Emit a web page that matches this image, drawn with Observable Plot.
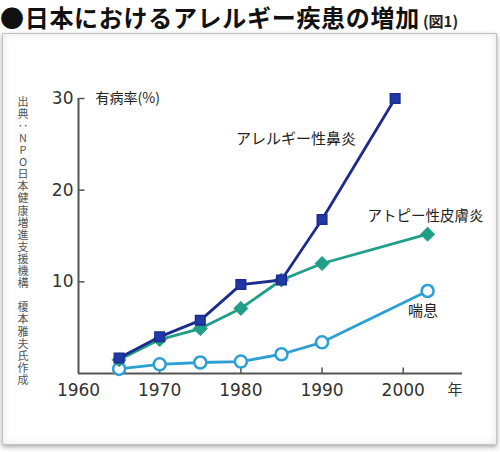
<!DOCTYPE html>
<html><head><meta charset="utf-8">
<script src="https://cdn.jsdelivr.net/npm/d3@7"></script>
<script src="https://cdn.jsdelivr.net/npm/@observablehq/plot@0.6"></script>
<style>
html,body{margin:0;padding:0;background:#fff;}
#page{position:relative;width:500px;height:452px;overflow:hidden;background:#fff;font-family:"Noto Sans CJK JP","Noto Sans",sans-serif;}
#title{position:absolute;left:0;top:1px;white-space:nowrap;font-weight:bold;font-size:24px;line-height:32px;color:#111;letter-spacing:0.7px;}
#title small{font-size:15px;font-weight:bold;color:#222;margin-left:3px;letter-spacing:0;}
#frame{position:absolute;left:2px;top:33px;width:493px;height:410px;border:1px solid #c4c4c4;background:#fff;box-shadow:0 2px 5px rgba(0,0,0,0.35), inset 0 0 8px rgba(0,0,0,0.10);}
#chart{position:absolute;left:0;top:33px;}
#source{position:absolute;left:15px;top:96px;writing-mode:vertical-rl;text-orientation:upright;font-size:11px;letter-spacing:1.1px;color:#555;font-family:"Noto Sans CJK JP",sans-serif;}
</style></head>
<body><div id="page">
<div id="frame"></div>
<div id="title">●日本におけるアレルギー疾患の増加<small>(図1)</small></div>
<div id="chart"></div>
<div id="source">出典：NPO日本健康増進支援機構　榎本雅夫氏作成</div>
</div>
<script>
// ---- data ----
const yearsRhinitis = [1965, 1970, 1975, 1980, 1985, 1990, 1999];
const rhinitis      = [1.7, 4.0, 5.8, 9.7, 10.2, 16.8, 30.0];
const yearsOther    = [1965, 1970, 1975, 1980, 1985, 1990, 2003];
const dermatitis    = [1.5, 3.7, 4.9, 7.1, 10.2, 12.0, 15.2];
const asthma        = [0.5, 1.0, 1.2, 1.3, 2.1, 3.4, 9.0];
const xTickLabels = [1960, 1970, 1980, 1990, 2000];
const xTickMarks  = [1970, 1980, 1990, 2000];
const yTicks = [10, 20, 30];
const seriesNames = ["アレルギー性鼻炎", "アトピー性皮膚炎", "喘息"];
const yLabel = "有病率(%)";
const xUnit = "年";

const xMin = 1960, xMax = 2007.3;
const rows = (years, vals) => years.map((x, i) => ({x, y: vals[i]}));
const dRh = rows(yearsRhinitis, rhinitis);
const dDe = rows(yearsOther, dermatitis);
const dAs = rows(yearsOther, asthma);

const cNavy = "#1b2c8c", cTeal = "#1f9f88", cBlue = "#2c9fd4", cAxis = "#555";
const upTick = {draw(ctx){ ctx.moveTo(0,0); ctx.lineTo(0,-6); }};
const rightTick = {draw(ctx){ ctx.moveTo(0,0); ctx.lineTo(6,0); }};
const numFont = "DejaVu Sans, sans-serif";
const jpFont = "Noto Sans CJK JP, sans-serif";

const chart = Plot.plot({
  width: 500, height: 410,
  marginTop: 65, marginBottom: 70, marginLeft: 78, marginRight: 38,
  x: {domain: [xMin, xMax], axis: null},
  y: {domain: [0, 30], axis: null},
  style: {background: "transparent"},
  marks: [
    Plot.ruleX([xMin], {y1: 0, y2: 30, stroke: cAxis, strokeWidth: 2}),
    Plot.ruleY([0], {x1: xMin, x2: xMax, stroke: cAxis, strokeWidth: 2}),
    Plot.dot(xTickMarks, {x: d => d, y: 0, symbol: upTick, stroke: cAxis, strokeWidth: 1.5, fill: "none"}),
    Plot.dot(yTicks, {x: xMin, y: d => d, symbol: rightTick, stroke: cAxis, strokeWidth: 1.5, fill: "none"}),
    Plot.text(xTickLabels, {x: d => d, y: 0, dy: 17, text: d => String(d), fontSize: 17, fill: "#333", fontFamily: numFont}),
    Plot.text(yTicks, {x: xMin, y: d => d, dx: -5, textAnchor: "end", text: d => String(d), fontSize: 17, fill: "#333", fontFamily: numFont}),
    Plot.text([xUnit], {x: xMax, y: 0, dy: 17, textAnchor: "end", text: d => d, fontSize: 15, fill: "#333", fontFamily: jpFont}),
    Plot.text([yLabel], {x: xMin, y: 30, dx: 17, textAnchor: "start", text: d => d, fontSize: 14, fill: "#222", fontFamily: jpFont}),
    // asthma
    Plot.line(dAs, {x: "x", y: "y", stroke: cBlue, strokeWidth: 2.8}),
    Plot.dot(dAs, {x: "x", y: "y", r: 6, stroke: cBlue, strokeWidth: 2.5, fill: "white"}),
    // dermatitis
    Plot.line(dDe, {x: "x", y: "y", stroke: cTeal, strokeWidth: 2.8}),
    Plot.dot(dDe, {x: "x", y: "y", r: 6.3, symbol: "diamond2", fill: cTeal, stroke: cTeal, strokeWidth: 1}),
    // rhinitis
    Plot.line(dRh, {x: "x", y: "y", stroke: cNavy, strokeWidth: 2.8}),
    Plot.dot(dRh, {x: "x", y: "y", r: 5.4, symbol: "square", fill: "#1f3aa8", stroke: cNavy, strokeWidth: 1.5}),
    // series labels
    Plot.text([seriesNames[0]], {x: 1979.4, y: 25.6, textAnchor: "start", text: d => d, fontSize: 15, fill: "#222", fontFamily: jpFont}),
    Plot.text([seriesNames[1]], {x: 1995.6, y: 17.1, textAnchor: "start", text: d => d, fontSize: 14.5, fill: "#222", fontFamily: jpFont}),
    Plot.text([seriesNames[2]], {x: 2000.6, y: 6.8, textAnchor: "start", text: d => d, fontSize: 15, fill: "#222", fontFamily: jpFont})
  ]
});
document.getElementById("chart").appendChild(chart);
</script>
</body></html>
